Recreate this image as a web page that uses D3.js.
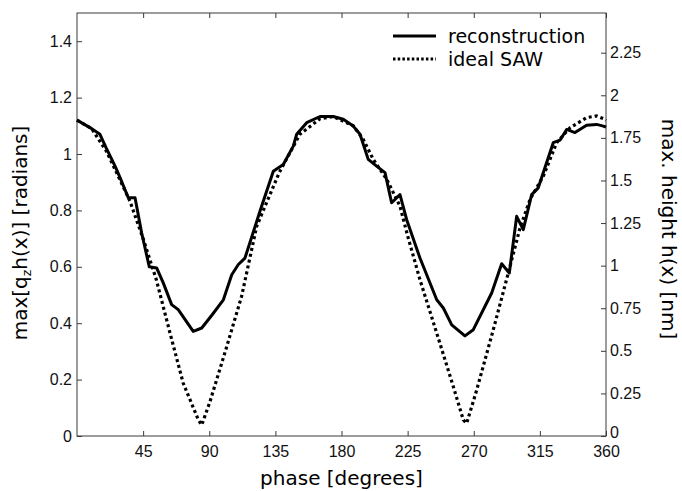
<!DOCTYPE html>
<html><head><meta charset="utf-8">
<script src="https://cdn.jsdelivr.net/npm/d3@7"></script>
<style>
html,body{margin:0;padding:0;background:#fff;}
svg{display:block;font-family:"DejaVu Sans",sans-serif;}
</style></head>
<body><svg id="chart" width="682" height="491"></svg>
<script>
const xTicks = [45, 90, 135, 180, 225, 270, 315, 360];
const yLeftTicks = [0, 0.2, 0.4, 0.6, 0.8, 1, 1.2, 1.4];
const yRightTicks = [0, 0.25, 0.5, 0.75, 1, 1.25, 1.5, 1.75, 2, 2.25];
const seriesNames = ["reconstruction", "ideal SAW"];

const reconPhase = [0,5,10,15.6,20,25.9,29.3,34.9,39.5,44,49.2,54.2,58.7,64.4,68.9,79.1,84.9,92,99.6,105.3,109.8,114.3,124.5,133.6,140.4,147.2,149.5,156.3,165.4,174.4,181.2,188,192.6,198.2,203.9,209.6,214.1,219.8,224.3,233.4,244.8,249.3,255,264,269.7,282.2,289,294.2,299.2,303.7,309.4,313.9,324.1,328.7,333.2,338.9,346.8,353.6,358.2,360];
const reconValue = [1.12,1.105,1.09,1.07,1.02,0.957,0.916,0.845,0.845,0.72,0.60,0.596,0.543,0.466,0.448,0.371,0.383,0.43,0.483,0.572,0.608,0.631,0.797,0.939,0.963,1.028,1.07,1.111,1.133,1.133,1.123,1.099,1.07,0.981,0.957,0.934,0.827,0.856,0.768,0.631,0.483,0.454,0.394,0.355,0.377,0.507,0.611,0.578,0.779,0.732,0.856,0.88,1.04,1.049,1.087,1.076,1.102,1.105,1.099,1.095];

const idealPhase = [0,10,20,30,36,45,54,63.3,72.3,82.6,84.9,90.5,101.9,112,122.3,137.6,151.7,165.4,174.4,188,194.8,201.6,210.8,219.8,225,233.4,244.8,256.1,262.9,265.2,272,283.3,293.5,301.5,308.3,317.3,326.4,335.5,346.8,353.6,359.3,360];
const idealValue = [1.12,1.09,1.01,0.9,0.833,0.70,0.554,0.365,0.187,0.057,0.039,0.122,0.317,0.495,0.744,0.934,1.07,1.125,1.133,1.10,1.052,0.981,0.91,0.815,0.71,0.554,0.365,0.175,0.057,0.045,0.163,0.377,0.578,0.738,0.839,0.921,1.04,1.093,1.129,1.135,1.123,1.12];

const svg = d3.select("#chart");
const L = 77, R = 606, T = 13, B = 436;
const x = d3.scaleLinear().domain([0, 360]).range([L, R]);
const y = d3.scaleLinear().domain([0, 1.5]).range([B, T]);
const y2 = d3.scaleLinear().domain([0, 2.483]).range([B, T]);
const axisColor = "#3a3a3a";
const tickFont = "Liberation Sans, Arial, sans-serif";

svg.append("rect").attr("x", L).attr("y", T).attr("width", R - L).attr("height", B - T)
  .attr("fill", "none").attr("stroke", axisColor).attr("stroke-width", 1);

const fs = 16;
const gx = svg.append("g").attr("transform", `translate(0,${B})`)
  .call(d3.axisBottom(x).tickValues(xTicks).tickFormat(d3.format("d")).tickSizeInner(-5).tickSizeOuter(0).tickPadding(10));
const gxTop = svg.append("g").attr("transform", `translate(0,${T})`)
  .call(d3.axisTop(x).tickValues(xTicks).tickFormat("").tickSizeInner(-5).tickSizeOuter(0));
const gy = svg.append("g").attr("transform", `translate(${L},0)`)
  .call(d3.axisLeft(y).tickValues(yLeftTicks).tickFormat(d => String(+d.toFixed(2))).tickSizeInner(-5).tickSizeOuter(0).tickPadding(5));
const gy2 = svg.append("g").attr("transform", `translate(${R},0)`)
  .call(d3.axisRight(y2).tickValues(yRightTicks).tickFormat(d => String(+d.toFixed(2))).tickSizeInner(-5).tickSizeOuter(0).tickPadding(4));
[gx, gxTop, gy, gy2].forEach(g => {
  g.select(".domain").remove();
  g.selectAll("line").attr("stroke", axisColor);
  g.selectAll("text").attr("font-size", fs).attr("fill", "#111").attr("font-family", tickFont);
});
gy2.selectAll(".tick text").filter(d => d === 0).attr("dy", "0.1em");

const line = d3.line().x(d => x(d[0])).y(d => y(d[1]));
const recon = reconPhase.map((p, i) => [p, reconValue[i]]);
const ideal = idealPhase.map((p, i) => [p, idealValue[i]]);
svg.append("path").datum(ideal).attr("d", line).attr("fill", "none")
  .attr("stroke", "#000").attr("stroke-width", 3.2).attr("stroke-dasharray", "3,3");
svg.append("path").datum(recon).attr("d", line).attr("fill", "none")
  .attr("stroke", "#000").attr("stroke-width", 3).attr("stroke-linejoin", "round");

const lg = svg.append("g");
lg.append("line").attr("x1", 393).attr("x2", 436).attr("y1", 36).attr("y2", 36)
  .attr("stroke", "#000").attr("stroke-width", 3);
lg.append("line").attr("x1", 393).attr("x2", 436).attr("y1", 59).attr("y2", 59)
  .attr("stroke", "#000").attr("stroke-width", 3).attr("stroke-dasharray", "2.5,2.2");
lg.append("text").attr("x", 448).attr("y", 43).attr("font-size", 19).text(seriesNames[0]);
lg.append("text").attr("x", 448).attr("y", 66).attr("font-size", 19).text(seriesNames[1]);

svg.append("text").attr("x", (L + R) / 2).attr("y", 485).attr("text-anchor", "middle")
  .attr("font-size", 20).text("phase [degrees]");
const yl = svg.append("text").attr("transform", `translate(27,233) rotate(-90)`)
  .attr("text-anchor", "middle").attr("font-size", 20);
yl.append("tspan").text("max[q");
yl.append("tspan").attr("font-size", 12.5).attr("dy", 4).text("z");
yl.append("tspan").attr("dy", -4).text("h(x)] [radians]");
svg.append("text").attr("transform", `translate(662,229) rotate(90)`)
  .attr("text-anchor", "middle").attr("font-size", 20).text("max. height h(x) [nm]");
</script></body></html>
